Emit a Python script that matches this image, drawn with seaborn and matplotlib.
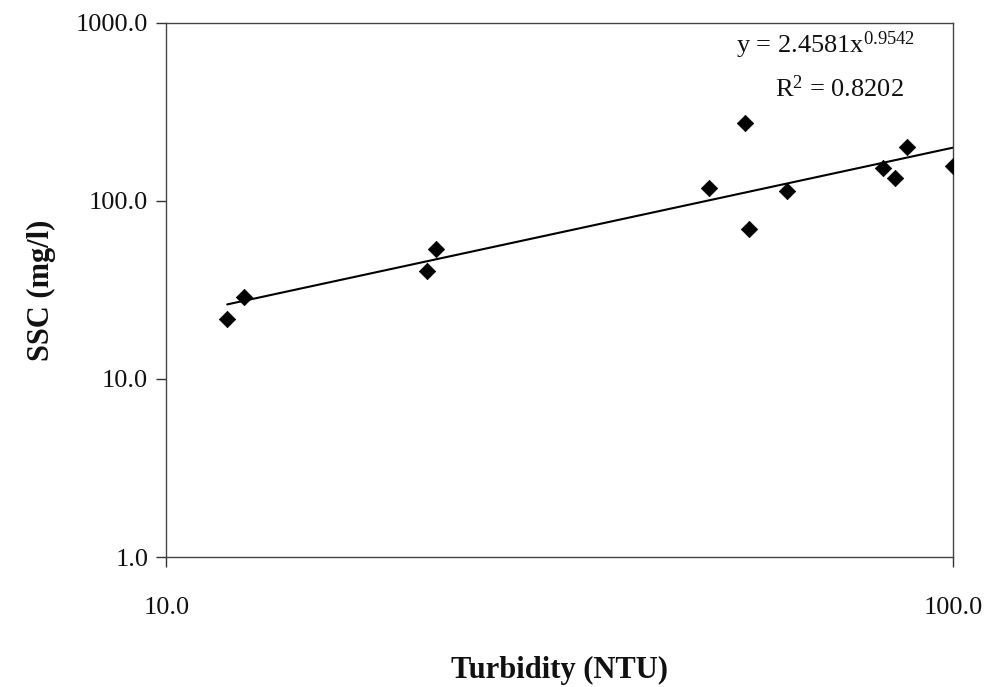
import numpy as np
import pandas as pd
import matplotlib
matplotlib.use("Agg")
import matplotlib.pyplot as plt
import seaborn as sns
from matplotlib.ticker import FixedLocator, FixedFormatter, NullLocator

# Data
turbidity = [11.95, 12.56, 21.45, 22.0, 48.9, 54.3, 54.95, 61.5, 81.5, 84.2, 87.4, 100.0]
ssc = [21.7, 28.9, 40.4, 53.8, 118.3, 274.0, 69.6, 113.8, 153.2, 134.7, 201.0, 157.3]

# Power-law trendline coefficients (from chart label)
coef_a = 2.4581
coef_b = 0.9542
r_squared = 0.8202

x_ticks = [10.0, 100.0]
x_ticklabels = ["10.0", "100.0"]
y_ticks = [1.0, 10.0, 100.0, 1000.0]
y_ticklabels = ["1.0", "10.0", "100.0", "1000.0"]

sns.set_theme(style="white")
plt.rcParams['font.family'] = ['Liberation Serif', 'DejaVu Serif']
plt.rcParams['mathtext.fontset'] = 'custom'
plt.rcParams['mathtext.rm'] = 'Liberation Serif'
plt.rcParams['mathtext.it'] = 'Liberation Serif:italic'
plt.rcParams['mathtext.bf'] = 'Liberation Serif:bold'

fig = plt.figure(figsize=(9.9, 6.87), dpi=100)
ax = fig.add_axes([0.168, 0.189, 0.795, 0.778])

df = pd.DataFrame({"Turbidity": turbidity, "SSC": ssc})
x_line = np.array([min(turbidity), max(turbidity)])
line_df = pd.DataFrame({"x": x_line, "y": coef_a * x_line ** coef_b})

sns.lineplot(data=line_df, x="x", y="y", ax=ax, color="black", linewidth=1.5)
sns.scatterplot(data=df, x="Turbidity", y="SSC", ax=ax, marker="D", s=70,
                color="black", edgecolor="black", linewidth=0.5, zorder=3)

ax.set_xscale("log")
ax.set_yscale("log")
ax.set_xlim(10, 100)
ax.set_ylim(1, 1000)

ax.xaxis.set_major_locator(FixedLocator(x_ticks))
ax.xaxis.set_major_formatter(FixedFormatter(x_ticklabels))
ax.xaxis.set_minor_locator(NullLocator())
ax.yaxis.set_major_locator(FixedLocator(y_ticks))
ax.yaxis.set_major_formatter(FixedFormatter(y_ticklabels))
ax.yaxis.set_minor_locator(NullLocator())

ax.tick_params(axis="both", which="major", direction="out", length=7, width=1,
               color="#333333", labelsize=19, labelcolor="#111111",
               bottom=True, left=True)
ax.tick_params(axis="x", pad=22)
ax.tick_params(axis="y", pad=6)

for sp in ax.spines.values():
    sp.set_visible(True)
    sp.set_color("#444444")
    sp.set_linewidth(1.0)

ax.set_xlabel("Turbidity (NTU)", fontsize=22, fontweight="bold", labelpad=26, color="#111111")
ax.set_ylabel("SSC (mg/l)", fontsize=22, fontweight="bold", labelpad=14, color="#111111")

ax.text(0.838, 0.957, r"y = 2.4581x$^{\mathregular{0.9542}}$", transform=ax.transAxes, ha="center",
        va="center", fontsize=19, color="#111111")
ax.text(0.855, 0.876, r"R$^{\mathregular{2}}$ = 0.8202", transform=ax.transAxes, ha="center",
        va="center", fontsize=19, color="#111111")

fig.savefig("out.png", dpi=100, facecolor="white")
